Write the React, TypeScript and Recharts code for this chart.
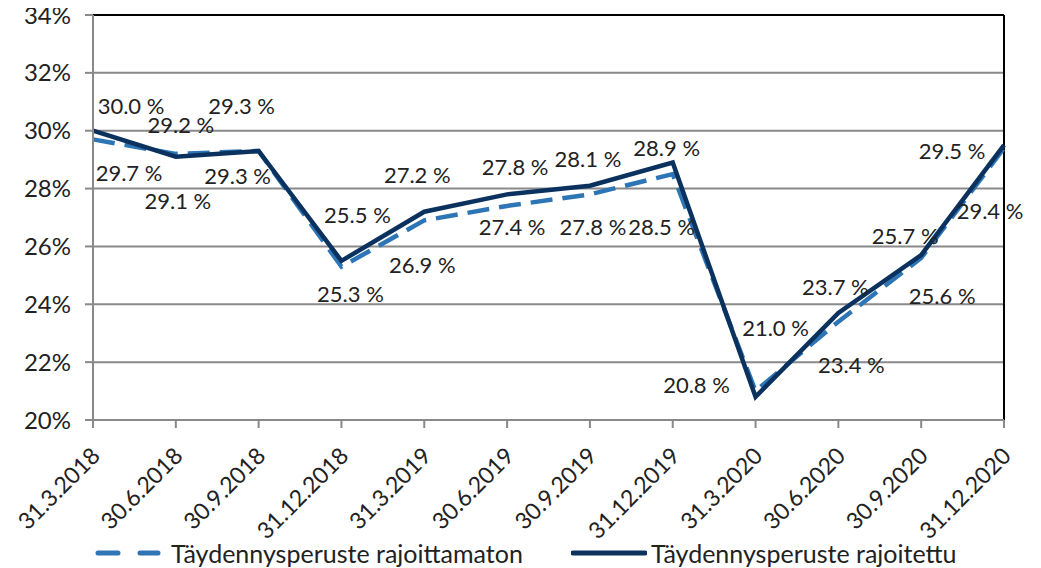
import React from "react";
import { LineChart, Line, XAxis, YAxis, CartesianGrid, ReferenceLine, LabelList, Legend } from "recharts";

const categories = ["31.3.2018", "30.6.2018", "30.9.2018", "31.12.2018", "31.3.2019", "30.6.2019", "30.9.2019", "31.12.2019", "31.3.2020", "30.6.2020", "30.9.2020", "31.12.2020"];
const rajoittamaton = [29.7, 29.2, 29.3, 25.3, 26.9, 27.4, 27.8, 28.5, 21.0, 23.4, 25.6, 29.4];
const rajoitettu = [30.0, 29.1, 29.3, 25.5, 27.2, 27.8, 28.1, 28.9, 20.8, 23.7, 25.7, 29.5];
const yTicks = [20, 22, 24, 26, 28, 30, 32, 34];
const seriesNames = ["Täydennysperuste rajoittamaton", "Täydennysperuste rajoitettu"];

// label placement offsets (relative to each point), layout only
const labelOffsetA: [number, number][] = [[36, 33], [5, -29], [-21, 25], [9, 27], [-2, 44], [5, 21], [3, 32], [-11, 52], [20, -64], [13, 43], [21, 37], [-14, 62]];
const labelOffsetB: [number, number][] = [[38, -25], [2, 44], [-17, -45], [16, -46], [-7, -37], [8, -28], [-2, -27], [-6, -15], [-59, -12], [-3, -26], [-16, -20], [-52, 5]];

const data = categories.map((c, i) => ({ name: c, a: rajoittamaton[i], b: rajoitettu[i] }));

const FONT = "Lato, 'Open Sans', sans-serif";
const DASH_COLOR = "#2E75B6";
const SOLID_COLOR = "#0B325F";
const TEXT = "#222";

const makeLabel = (own: number[], offs: [number, number][]) => (props: any) => {
  const { x, y, index } = props;
  const v = own[index];
  const [dx, dy] = offs[index];
  return (
    <text x={x + dx} y={y + dy} textAnchor="middle" dominantBaseline="central" fontFamily={FONT} fontSize={22} fill={TEXT}>
      {v.toFixed(1) + " %"}
    </text>
  );
};

const XTick = (props: any) => {
  const { x, y, payload } = props;
  const ax = x + 2;
  const ay = y + 21;
  return (
    <text x={ax} y={ay} textAnchor="end" dominantBaseline="central" fontFamily={FONT} fontSize={23} fill={TEXT} transform={`rotate(-45, ${ax}, ${ay})`}>
      {payload.value}
    </text>
  );
};

const LegendContent = () => (
  <div style={{ position: "relative", height: 30, fontFamily: FONT, fontSize: 25, color: TEXT }}>
    <div style={{ position: "absolute", left: 87, top: 0, display: "flex", alignItems: "center", whiteSpace: "nowrap" }}>
      <svg width={66} height={10}>
        <line x1={3} y1={5} x2={63} y2={5} stroke={DASH_COLOR} strokeWidth={5} strokeDasharray="20 22" strokeLinecap="round" />
      </svg>
      <span style={{ marginLeft: 10 }}>{seriesNames[0]}</span>
    </div>
    <div style={{ position: "absolute", left: 563, top: 0, display: "flex", alignItems: "center", whiteSpace: "nowrap" }}>
      <svg width={76} height={10}>
        <line x1={2} y1={5} x2={74} y2={5} stroke={SOLID_COLOR} strokeWidth={5} strokeLinecap="round" />
      </svg>
      <span style={{ marginLeft: 4 }}>{seriesNames[1]}</span>
    </div>
  </div>
);

export default function App() {
  return (
    <div style={{ width: 1033, height: 560 }}>
      <style>{`.recharts-surface { overflow: visible; }`}</style>
      <LineChart width={1033} height={560} data={data} margin={{ top: 7, right: 37, left: 0, bottom: 0 }}>
        <CartesianGrid vertical={false} stroke="#898989" strokeWidth={2} />
        <XAxis
          dataKey="name"
          interval={0}
          tick={<XTick />}
          tickLine={{ stroke: "#898989", strokeWidth: 2 }}
          tickSize={8}
          axisLine={{ stroke: "#898989", strokeWidth: 2 }}
          height={118}
          padding={{ left: 0, right: 0 }}
        />
        <YAxis
          domain={[20, 34]}
          ticks={yTicks}
          interval={0}
          tickFormatter={(v: number) => `${v}%`}
          tick={{ fontFamily: FONT, fontSize: 24, fill: TEXT }}
          tickLine={{ stroke: "#898989", strokeWidth: 2 }}
          tickSize={8}
          tickMargin={14}
          axisLine={{ stroke: "#898989", strokeWidth: 2 }}
          width={85}
        />
        <ReferenceLine y={34} stroke="#000" strokeWidth={2} />
        <ReferenceLine x={categories[categories.length - 1]} stroke="#000" strokeWidth={2} />
        <Line dataKey="a" name={seriesNames[0]} stroke={DASH_COLOR} strokeWidth={4.5} strokeDasharray="22 10" dot={false} isAnimationActive={false}>
          <LabelList dataKey="a" content={makeLabel(rajoittamaton, labelOffsetA)} />
        </Line>
        <Line dataKey="b" name={seriesNames[1]} stroke={SOLID_COLOR} strokeWidth={4.5} dot={false} isAnimationActive={false}>
          <LabelList dataKey="b" content={makeLabel(rajoitettu, labelOffsetB)} />
        </Line>
        <Legend verticalAlign="bottom" align="left" content={<LegendContent />} wrapperStyle={{ left: 0, bottom: 0, width: 1033 }} />
      </LineChart>
    </div>
  );
}
